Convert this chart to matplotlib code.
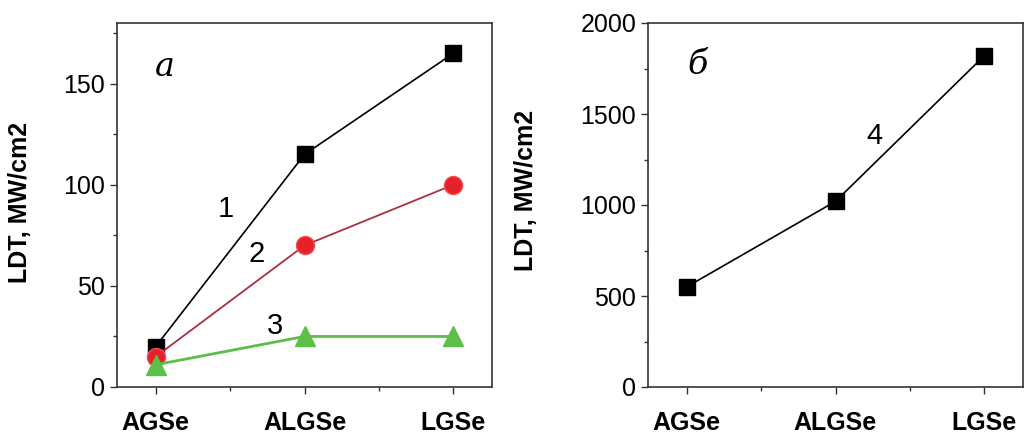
import matplotlib.pyplot as plt
from matplotlib.ticker import MultipleLocator

# Data for the chart
crystals = ["AGSe", "ALGSe", "LGSe"]
ldt_1 = [20, 115, 165]
ldt_2 = [15, 70, 100]
ldt_3 = [11, 25, 25]
ldt_4 = [550, 1020, 1820]

plt.rcParams["font.family"] = ["Liberation Sans", "DejaVu Sans"]

fig = plt.figure(figsize=(10.24, 4.34), dpi=100)
ax1 = fig.add_axes([117 / 1024, 1 - 387 / 434, 375 / 1024, 364 / 434])
ax2 = fig.add_axes([648 / 1024, 1 - 387 / 434, 375 / 1024, 364 / 434])

x = list(range(len(crystals)))

# Panel a
ax1.plot(x, ldt_1, color="black", lw=1.2, marker="s", ms=12, mfc="black", mec="black", zorder=3)
ax1.plot(x, ldt_2, color="#a83040", lw=1.3, marker="o", ms=13, mfc="#e8202a", mec="#f05050", zorder=4)
ax1.plot(x, ldt_3, color="#5cbf48", lw=2, marker="^", ms=14, mfc="#5cbf48", mec="#5cbf48", zorder=5)
ax1.set_ylim(0, 180)
ax1.yaxis.set_major_locator(MultipleLocator(50))
ax1.yaxis.set_minor_locator(MultipleLocator(25))
ax1.text(0.47, 88, "1", fontsize=21, ha="center", va="center")
ax1.text(0.68, 66, "2", fontsize=21, ha="center", va="center")
ax1.text(0.80, 30, "3", fontsize=21, ha="center", va="center")
ax1.text(0.06, 158, "а", fontsize=24, style="italic", family="DejaVu Serif", ha="center", va="center")

# Panel b
ax2.plot(x, ldt_4, color="black", lw=1.2, marker="s", ms=12, mfc="black", mec="black", zorder=3)
ax2.set_ylim(0, 2000)
ax2.yaxis.set_major_locator(MultipleLocator(500))
ax2.yaxis.set_minor_locator(MultipleLocator(250))
ax2.text(1.26, 1380, "4", fontsize=21, ha="center", va="center")
ax2.text(0.07, 1770, "б", fontsize=24, style="italic", family="DejaVu Serif", ha="center", va="center")

for ax in (ax1, ax2):
    ax.set_xlim(-0.26, 2.26)
    ax.set_xticks(x)
    ax.set_xticklabels(crystals, fontsize=18, fontweight="bold")
    ax.xaxis.set_minor_locator(MultipleLocator(0.5))
    ax.tick_params(axis="y", which="major", labelsize=18, length=5, width=1, direction="out", color="#333333")
    ax.tick_params(axis="x", which="major", length=5, width=1, direction="out", pad=12, color="#333333")
    ax.tick_params(which="minor", length=3, width=1, direction="out", color="#333333")
    ax.set_ylabel("LDT, MW/cm2", fontsize=18, fontweight="bold")
    for s in ax.spines.values():
        s.set_linewidth(1.2)
        s.set_color("#333333")

ax1.yaxis.set_label_coords(-0.227, 0.508)
ax2.yaxis.set_label_coords(-0.293, 0.541)

fig.savefig("out.png", dpi=100)
